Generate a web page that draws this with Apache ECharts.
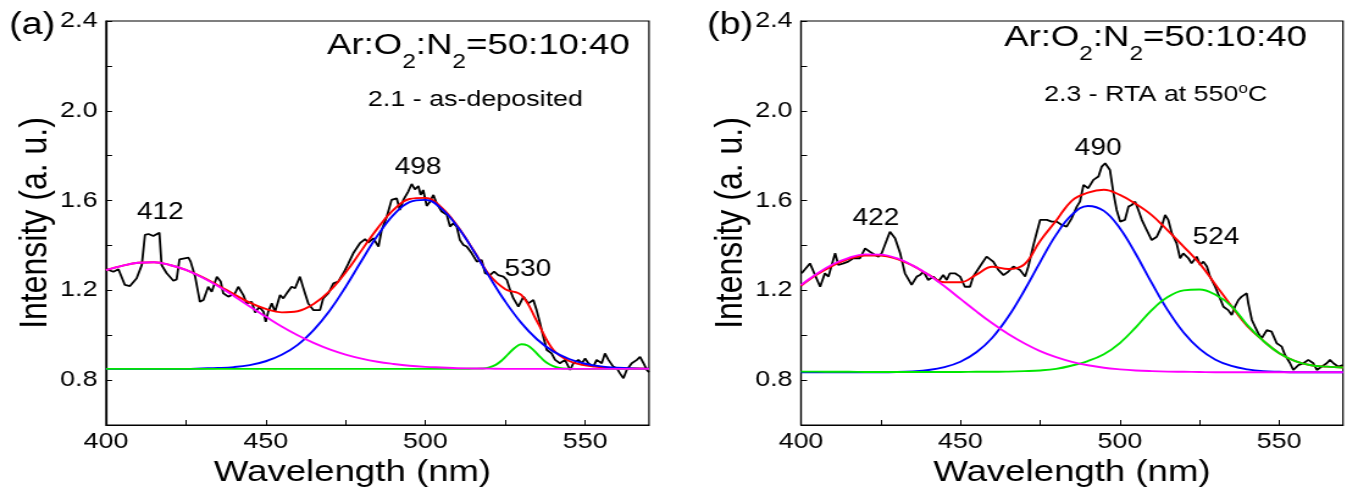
<!DOCTYPE html>
<html lang="en">
<head>
<meta charset="UTF-8">
<title>PL spectra</title>
<style>
  body, html { padding: 0; margin: 0; overflow: hidden; background: #fff; }
  /* the reference picture is stretched sideways, so the chart is drawn narrower and scaled */
  #chart { width: 1104px; height: 495px; transform: scaleX(1.2201); transform-origin: 0 0; }
</style>
<script src="https://cdn.jsdelivr.net/npm/echarts@6/dist/echarts.min.js"></script>
</head>
<body>
<div id="chart"></div>
<script>
var SX = 1.2201;
function px(v) { return v / SX; }
var FONT = "'Liberation Sans', Arial, sans-serif";

var xTickLabels = ['400', '450', '500', '550'];
var yTickLabels = ['0.8', '1.2', '1.6', '2.0', '2.4'];

// x grid of the fitted curves
var fitX = [400, 405, 410, 415, 420, 425, 430, 435, 440, 445, 450, 455, 460, 465, 470, 475, 480, 485,
  490, 495, 500, 505, 510, 515, 520, 525, 530, 535, 540, 545, 550, 555, 560, 565, 570];

// ---- panel (a) ----
var aDataX = [400.2, 402.3, 403.9, 405.9, 407.5, 409.6, 411.2, 412.2, 413.3, 414.8, 416.7, 417.4, 419.0, 421.1,
  422.1, 423.0, 425.8, 426.5, 427.9, 429.4, 430.5, 432.0, 433.1, 434.7, 435.9, 436.7, 438.3, 440.4, 441.4,
  443.0, 444.0, 445.6, 446.7, 448.0, 449.3, 450.0, 450.8, 451.9, 452.9, 454.5, 455.5, 456.6, 458.1, 459.2,
  460.7, 461.8, 463.3, 464.9, 467.0, 468.0, 469.6, 471.2, 472.7, 474.3, 475.9, 477.4, 479.5, 481.1, 482.1,
  483.7, 485.3, 486.3, 487.9, 489.4, 491.0, 492.0, 493.1, 494.6, 495.7, 496.7, 497.8, 498.5, 499.3, 500.4,
  501.4, 502.5, 503.5, 505.1, 506.7, 507.7, 508.7, 509.8, 510.8, 511.9, 512.9, 514.5, 516.1, 517.6, 518.7,
  520.2, 521.5, 522.8, 524.4, 525.5, 526.5, 527.5, 529.1, 530.7, 532.2, 533.8, 534.8, 535.9, 536.9, 538.0,
  539.5, 540.6, 542.1, 543.7, 545.3, 546.3, 547.9, 549.0, 550.0, 551.0, 552.6, 553.6, 555.2, 556.2, 557.3,
  558.8, 559.9, 560.9, 562.0, 563.0, 564.6, 566.2, 567.2, 568.3, 569.3, 570.0];
var aDataY = [1.294, 1.283, 1.294, 1.224, 1.219, 1.254, 1.313, 1.447, 1.451, 1.442, 1.457, 1.313, 1.276, 1.243,
  1.249, 1.338, 1.346, 1.328, 1.261, 1.149, 1.157, 1.216, 1.194, 1.261, 1.239, 1.187, 1.172, 1.187, 1.216,
  1.179, 1.142, 1.149, 1.101, 1.127, 1.105, 1.060, 1.105, 1.142, 1.105, 1.179, 1.164, 1.187, 1.216, 1.209,
  1.261, 1.209, 1.142, 1.112, 1.112, 1.164, 1.187, 1.231, 1.239, 1.276, 1.320, 1.365, 1.410, 1.428, 1.413,
  1.432, 1.395, 1.469, 1.528, 1.603, 1.610, 1.558, 1.603, 1.640, 1.674, 1.650, 1.665, 1.625, 1.647, 1.576,
  1.595, 1.625, 1.588, 1.551, 1.536, 1.484, 1.499, 1.484, 1.424, 1.402, 1.395, 1.365, 1.328, 1.335, 1.276,
  1.268, 1.283, 1.268, 1.261, 1.246, 1.202, 1.165, 1.127, 1.172, 1.142, 1.157, 1.112, 1.053, 0.994, 0.934,
  0.919, 0.890, 0.875, 0.890, 0.845, 0.875, 0.890, 0.875, 0.897, 0.875, 0.860, 0.890, 0.875, 0.919, 0.890,
  0.860, 0.853, 0.830, 0.808, 0.845, 0.875, 0.890, 0.904, 0.875, 0.845, 0.835];
var aRed = [1.29, 1.309, 1.323, 1.325, 1.313, 1.291, 1.26, 1.223, 1.183, 1.145, 1.117, 1.102, 1.107, 1.139,
  1.196, 1.279, 1.378, 1.476, 1.558, 1.607, 1.612, 1.57, 1.487, 1.38, 1.269, 1.205, 1.18, 1.06, 0.935, 0.885,
  0.866, 0.858, 0.853, 0.852, 0.851];
var aBlue = [0.85, 0.85, 0.85, 0.85, 0.85, 0.85, 0.852, 0.854, 0.858, 0.867, 0.884, 0.913, 0.957, 1.023,
  1.109, 1.215, 1.332, 1.444, 1.536, 1.593, 1.603, 1.564, 1.484, 1.378, 1.261, 1.15, 1.055, 0.981, 0.928,
  0.894, 0.873, 0.861, 0.855, 0.852, 0.851];
var aMagenta = [1.29, 1.309, 1.323, 1.325, 1.313, 1.291, 1.258, 1.219, 1.175, 1.128, 1.083, 1.039, 1.0, 0.966,
  0.937, 0.914, 0.896, 0.882, 0.872, 0.864, 0.859, 0.856, 0.853, 0.852, 0.851, 0.85, 0.85, 0.85, 0.85, 0.85,
  0.85, 0.85, 0.85, 0.85, 0.85];
var aGreenX = [400, 450, 500, 510, 515, 518, 520, 522, 524, 526, 528, 530, 532, 534, 536, 538, 540, 542, 545, 550, 570];
var aGreenY = [0.85, 0.85, 0.85, 0.85, 0.851, 0.852, 0.857, 0.868, 0.889, 0.917, 0.944, 0.96, 0.954, 0.931,
  0.902, 0.877, 0.862, 0.854, 0.851, 0.85, 0.85];
var aPeakText = ['412', '498', '530'];
var aPeakAt = [[417, 1.545], [497.7, 1.745], [532.1, 1.29]];

// ---- panel (b) ----
var bDataX = [400.2, 402.8, 406.0, 407.5, 408.6, 410.7, 411.7, 413.3, 414.8, 416.4, 418.5, 420.1, 421.6, 423.2,
  424.3, 425.3, 426.9, 427.9, 429.5, 431.1, 432.6, 434.7, 436.3, 437.3, 438.4, 439.9, 441.5, 443.1, 444.6,
  445.7, 446.7, 448.3, 449.9, 451.4, 453.0, 454.0, 456.1, 458.2, 460.3, 461.9, 463.5, 465.0, 466.6, 468.7,
  470.3, 471.3, 472.9, 475.0, 477.1, 478.6, 480.2, 481.8, 483.3, 484.9, 486.5, 487.5, 488.6, 490.1, 491.7,
  493.3, 494.3, 495.4, 496.9, 498.0, 499.0, 500.1, 501.6, 502.7, 503.7, 504.8, 505.8, 506.9, 508.4, 510.0,
  511.6, 513.1, 514.2, 515.2, 516.3, 517.8, 518.9, 519.9, 521.5, 522.5, 524.1, 525.2, 526.2, 527.3, 528.3,
  529.9, 531.4, 532.5, 534.0, 535.1, 536.1, 537.2, 538.2, 538.7, 539.8, 540.3, 541.4, 542.4, 543.4, 544.5,
  546.1, 547.6, 549.2, 550.8, 551.8, 553.4, 554.4, 556.0, 557.6, 559.1, 560.7, 561.8, 563.3, 564.9, 565.9,
  567.0, 568.5, 570.0];
var bDataY = [1.276, 1.320, 1.216, 1.276, 1.261, 1.365, 1.313, 1.320, 1.328, 1.343, 1.343, 1.387, 1.372, 1.358,
  1.350, 1.365, 1.424, 1.461, 1.432, 1.365, 1.276, 1.224, 1.261, 1.268, 1.283, 1.246, 1.261, 1.239, 1.268,
  1.246, 1.276, 1.276, 1.261, 1.216, 1.216, 1.261, 1.306, 1.350, 1.328, 1.291, 1.268, 1.283, 1.306, 1.291,
  1.261, 1.306, 1.402, 1.514, 1.514, 1.506, 1.506, 1.491, 1.484, 1.521, 1.573, 1.595, 1.670, 1.655, 1.692,
  1.707, 1.751, 1.766, 1.736, 1.633, 1.558, 1.506, 1.514, 1.573, 1.580, 1.595, 1.558, 1.514, 1.469, 1.424,
  1.439, 1.484, 1.536, 1.514, 1.454, 1.410, 1.343, 1.365, 1.343, 1.320, 1.350, 1.313, 1.328, 1.306, 1.261,
  1.216, 1.165, 1.127, 1.112, 1.090, 1.127, 1.157, 1.172, 1.179, 1.187, 1.142, 1.068, 1.038, 1.009, 0.986,
  1.023, 1.016, 0.964, 0.949, 0.912, 0.875, 0.845, 0.867, 0.875, 0.890, 0.875, 0.845, 0.860, 0.875, 0.890,
  0.875, 0.860, 0.867];
var bRed = [1.22, 1.27, 1.31, 1.34, 1.355, 1.355, 1.34, 1.31, 1.27, 1.236, 1.236, 1.27, 1.305, 1.295, 1.315,
  1.42, 1.51, 1.60, 1.635, 1.648, 1.625, 1.585, 1.535, 1.467, 1.395, 1.32, 1.225, 1.13, 1.04, 0.975, 0.92,
  0.885, 0.866, 0.86, 0.856];
var bBlue = [0.835, 0.835, 0.835, 0.835, 0.835, 0.835, 0.836, 0.839, 0.845, 0.858, 0.882, 0.924, 0.989, 1.082,
  1.198, 1.326, 1.447, 1.537, 1.576, 1.554, 1.477, 1.362, 1.233, 1.112, 1.012, 0.939, 0.891, 0.863, 0.848,
  0.84, 0.837, 0.835, 0.835, 0.835, 0.835];
var bGreen = [0.838, 0.838, 0.837, 0.837, 0.836, 0.836, 0.836, 0.836, 0.836, 0.836, 0.836, 0.837, 0.837, 0.838,
  0.84, 0.843, 0.85, 0.865, 0.885, 0.915, 0.965, 1.035, 1.112, 1.17, 1.2, 1.204, 1.18, 1.13, 1.045, 0.975,
  0.92, 0.885, 0.866, 0.86, 0.856];
var bMagenta = [1.224, 1.274, 1.316, 1.345, 1.36, 1.359, 1.343, 1.311, 1.269, 1.218, 1.162, 1.106, 1.053, 1.005,
  0.964, 0.929, 0.902, 0.881, 0.866, 0.855, 0.848, 0.843, 0.84, 0.838, 0.837, 0.836, 0.835, 0.835, 0.835,
  0.835, 0.835, 0.835, 0.835, 0.835, 0.835];
var bPeakText = ['422', '490', '524'];
var bPeakAt = [[423.5, 1.518], [493.2, 1.83], [530.2, 1.433]];

function pairs(xs, ys) { return xs.map(function (x, i) { return [x, ys[i]]; }); }

function xAxisOf(idx, namePad) {
  return {
    type: 'value', gridIndex: idx, min: 400, max: 570, interval: 25,
    axisLine: { show: true, onZero: false, lineStyle: { color: '#000', width: 1.2 } },
    axisTick: { show: true, inside: true, length: 5, lineStyle: { color: '#000' } },
    axisLabel: {
      margin: 6, color: '#000', fontSize: 22, fontFamily: FONT, showMaxLabel: false,
      formatter: function (v) { var s = String(Math.round(v)); return xTickLabels.indexOf(s) >= 0 ? s : ''; }
    },
    splitLine: { show: false },
    name: 'Wavelength (nm)', nameLocation: 'middle', nameGap: 31,
    nameTextStyle: { fontSize: 30, color: '#000', fontFamily: FONT, padding: namePad }
  };
}
function yAxisOf(idx) {
  return {
    type: 'value', gridIndex: idx, min: 0.6, max: 2.4, interval: 0.2,
    axisLine: { show: true, onZero: false, lineStyle: { color: '#000', width: 1.2 } },
    axisTick: { show: true, inside: true, length: 5, lineStyle: { color: '#000' } },
    axisLabel: {
      margin: 7, color: '#000', fontSize: 22, fontFamily: FONT, showMinLabel: false, showMaxLabel: true,
      formatter: function (v) { var s = v.toFixed(1); return yTickLabels.indexOf(s) >= 0 ? s : ''; }
    },
    splitLine: { show: false },
    name: 'Intensity (a. u.)', nameLocation: 'middle', nameGap: 40,
    nameTextStyle: { fontSize: 32, color: '#000', fontFamily: FONT }
  };
}
function curve(idx, data, color, smooth) {
  return {
    type: 'line', xAxisIndex: idx, yAxisIndex: idx, data: data, symbol: 'none', smooth: smooth,
    lineStyle: { color: color, width: 1.9 }, silent: true
  };
}
function spectrum(idx, data, texts, anchors) {
  var s = curve(idx, data, '#000', false);
  s.lineStyle.width = 1.8;
  s.markPoint = {
    symbol: 'circle', symbolSize: 0, silent: true,
    label: { show: true, position: 'inside', formatter: '{b}', color: '#000', fontSize: 23, fontFamily: FONT },
    data: texts.map(function (t, i) { return { name: t, coord: anchors[i] }; })
  };
  return s;
}

var mainRich = {
  m: { fontSize: 30, lineHeight: 34, color: '#000', fontWeight: 'normal', fontFamily: FONT },
  s: { fontSize: 20, lineHeight: 20, color: '#000', fontWeight: 'normal', fontFamily: FONT, padding: [32, 0, 0, 0] }
};
var subRich = {
  t: { fontSize: 22, lineHeight: 22, color: '#000', fontWeight: 'normal', fontFamily: FONT },
  o: { fontSize: 14, lineHeight: 14, color: '#000', fontWeight: 'normal', fontFamily: FONT, padding: [0, 0, 12, 0] }
};
var plain = function (size) {
  return { fontSize: size, fontWeight: 'normal', color: '#000', fontFamily: FONT };
};
var gasText = '{m|Ar:O}{s|2}{m|:N}{s|2}{m|=50:10:40}';

var chart = echarts.init(document.getElementById('chart'));
chart.setOption({
  animation: false,
  backgroundColor: '#fff',
  title: [
    { text: '(a)', left: px(9), top: 10, padding: 0, textStyle: plain(31) },
    { text: '(b)', left: px(707), top: 10, padding: 0, textStyle: plain(31) },
    { text: gasText, left: px(327), top: 29, padding: 0, textStyle: { fontWeight: 'normal', rich: mainRich } },
    { text: gasText, left: px(1004), top: 21, padding: 0, textStyle: { fontWeight: 'normal', rich: mainRich } },
    { text: '{t|2.1 - as-deposited}', left: px(368), top: 89, padding: 0, textStyle: { fontWeight: 'normal', rich: subRich } },
    { text: '{t|2.3 - RTA at 550}{o|o}{t|C}', left: px(1044), top: 84, padding: 0, textStyle: { fontWeight: 'normal', rich: subRich } }
  ],
  grid: [
    { left: px(106), top: 21, width: px(543), height: 404, show: true, borderColor: '#000', borderWidth: 1.2, outerBoundsMode: 'none' },
    { left: px(801), top: 21, width: px(542), height: 404, show: true, borderColor: '#000', borderWidth: 1.2, outerBoundsMode: 'none' }
  ],
  xAxis: [xAxisOf(0, [0, 41, 0, 0]), xAxisOf(1, 0)],
  yAxis: [yAxisOf(0), yAxisOf(1)],
  series: [
    spectrum(0, pairs(aDataX, aDataY), aPeakText, aPeakAt),
    curve(0, pairs(fitX, aRed), '#ff0000', 0.4),
    curve(0, pairs(fitX, aBlue), '#0000ff', 0.4),
    curve(0, pairs(aGreenX, aGreenY), '#00e600', 0.4),
    curve(0, pairs(fitX, aMagenta), '#ff00ff', 0.4),
    spectrum(1, pairs(bDataX, bDataY), bPeakText, bPeakAt),
    curve(1, pairs(fitX, bRed), '#ff0000', 0.4),
    curve(1, pairs(fitX, bBlue), '#0000ff', 0.4),
    curve(1, pairs(fitX, bGreen), '#00e600', 0.4),
    curve(1, pairs(fitX, bMagenta), '#ff00ff', 0.4)
  ]
});
</script>
</body>
</html>
